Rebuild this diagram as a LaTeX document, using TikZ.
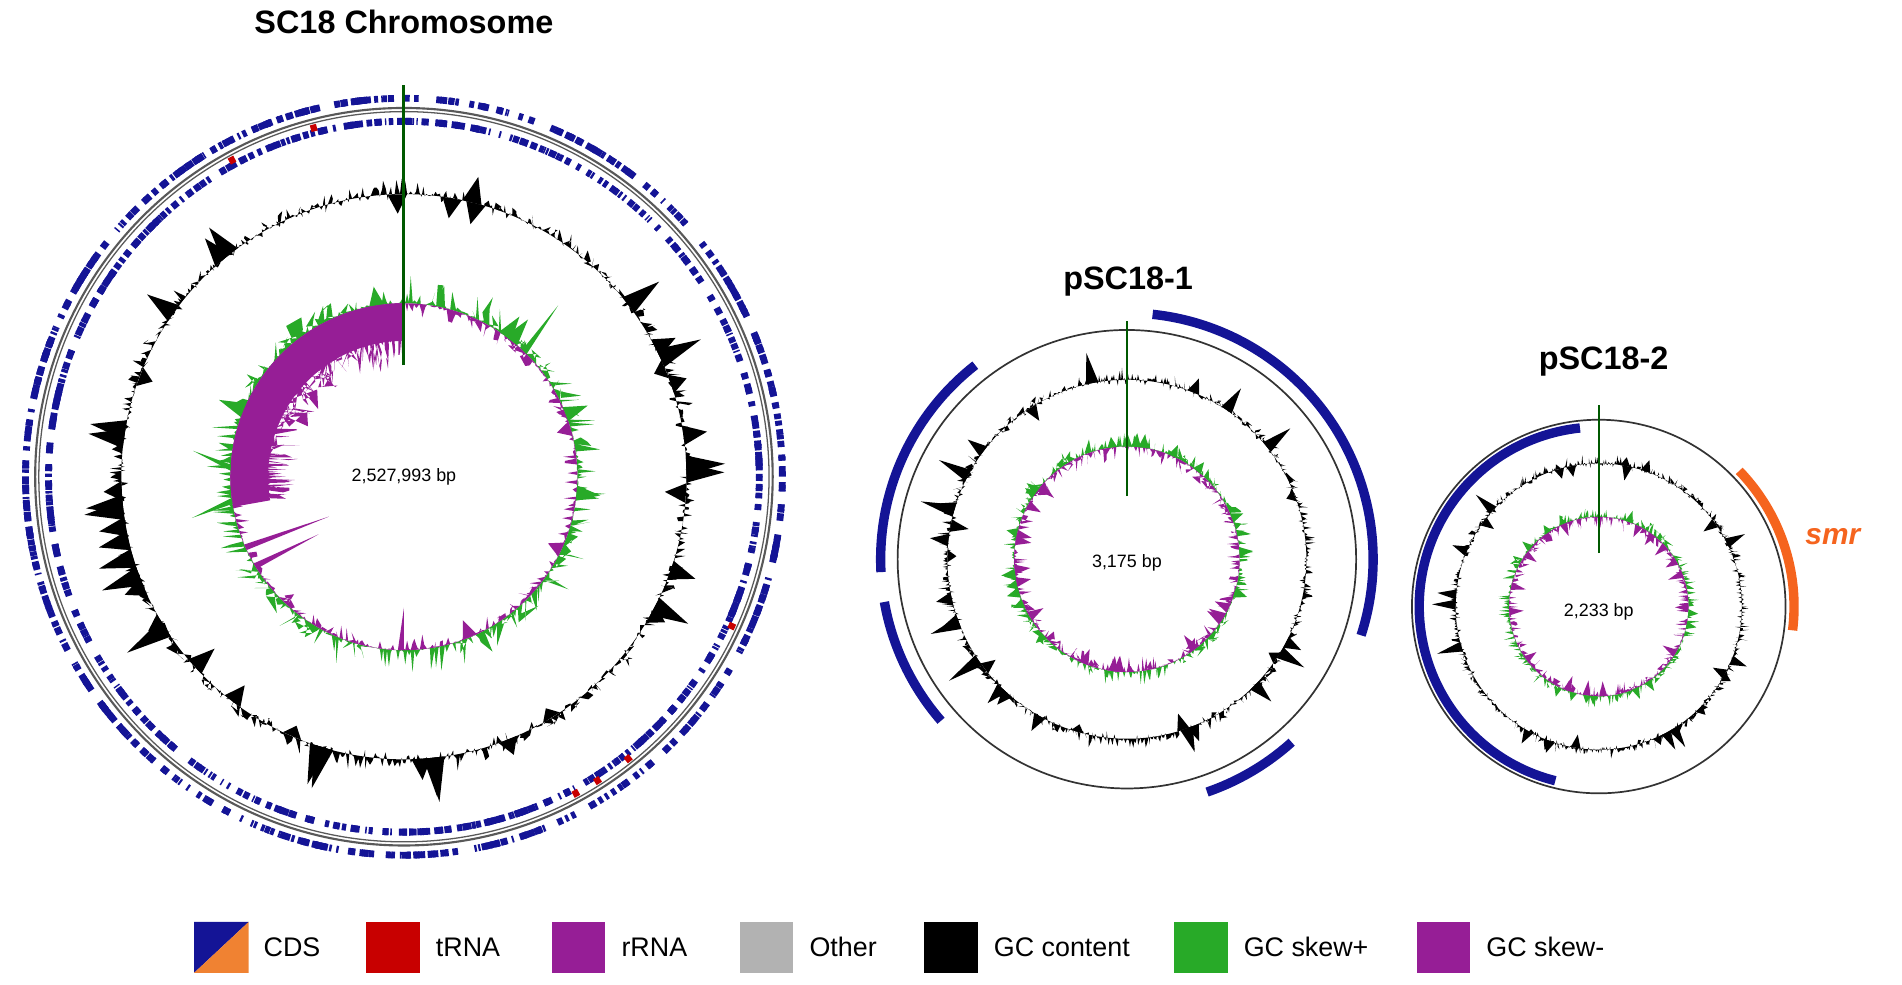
\documentclass[tikz,border=0pt]{standalone}
\usepackage{fontspec}
\setmainfont{Liberation Sans}
\usetikzlibrary{positioning}
\definecolor{cdsblue}{RGB}{20,20,150}
\definecolor{cdsorange}{RGB}{240,130,50}
\definecolor{trnared}{RGB}{200,0,0}
\definecolor{skewgreen}{RGB}{40,170,40}
\definecolor{skewpurple}{RGB}{150,30,150}
\definecolor{smrorange}{RGB}{245,100,30}
\tikzset{
  ttl/.style={font=\bfseries\fontsize{7.6}{9}\selectfont},
  bp/.style={font=\fontsize{4.2}{5}\selectfont},
  legbox/.style={minimum width=4.4mm, minimum height=4.2mm, inner sep=0pt},
  legtxt/.style={font=\fontsize{6.3}{7}\selectfont, anchor=west, xshift=1.2mm, inner sep=0pt}
}
% GC content ring: base radius, hair amplitude, spike height, spike count
\newcommand\gcring[4]{%
  \fill[black, even odd rule] plot[domain=0:360, samples=1000] (\x:{#1+#2*(rnd-0.35)*rnd}) -- cycle (0,0) circle (#1);
  \foreach \k in {1,...,#4}{
    \pgfmathsetmacro\t{rnd*360}
    \pgfmathsetmacro\h{#3*(0.3+0.7*rnd)*(rnd<0.3 ? -0.6 : 1)}
    \fill[black] (\t-2:#1) -- (\t:#1+\h) -- (\t+2:#1) -- cycle;}}
% skew ring: base, green amp, purple amp, spike count
\newcommand\skewring[4]{%
  \fill[skewgreen, even odd rule] plot[domain=0:360, samples=600] (\x:{#1+#2*(rnd^5)}) -- cycle (0,0) circle (#1);
  \fill[skewpurple, even odd rule] plot[domain=0:360, samples=600] (\x:{#1-#3*(rnd^5)}) -- cycle (0,0) circle (#1);
  \foreach \k in {1,...,#4}{
    \pgfmathsetmacro\t{rnd*360}
    \pgfmathsetmacro\h{(0.5+0.5*rnd)}
    \ifdim\h pt<0.75pt
      \fill[skewgreen] (\t-2.5:#1) -- (\t:#1+1.3*#2*\h) -- (\t+2.5:#1) -- cycle;
    \else
      \fill[skewpurple] (\t-2.5:#1) -- (\t:#1-1.3*#3*\h) -- (\t+2.5:#1) -- cycle;
    \fi}}
\begin{document}
\begin{tikzpicture}[x=0.1mm, y=0.1mm]
\pgfmathsetseed{18}
\useasboundingbox (0,0) rectangle (1568,-812);

% chromosome
\node[ttl] (t1) at (333,-18) {SC18 Chromosome};
\begin{scope}[shift={(333,-393)}]
  \foreach \i in {1,...,520}{
    \pgfmathsetmacro\t{rnd*360}
    \pgfmathsetmacro\w{0.2+rnd*1.0}
    \draw[cdsblue, line width=1.6pt] (\t:312) arc[start angle=\t, delta angle=\w, radius=312];
    \pgfmathsetmacro\t{rnd*360}
    \draw[cdsblue, line width=1.6pt] (\t:293) arc[start angle=\t, delta angle=\w, radius=293];}
  \foreach \t in {118,104,-25,-52,-58,-62}{\draw[trnared, line width=1.6pt] (\t:297) arc[start angle=\t, delta angle=1, radius=297];}
  \draw[gray!70!black, line width=0.5pt] (0,0) circle (304);
  \draw[gray!70!black, line width=0.3pt] (0,0) circle (301);
  \gcring{233}{22}{38}{45}
  \skewring{143}{24}{12}{10}
  \fill[skewpurple] (90:143) arc[start angle=90, end angle=190, radius=143] -- (190:112) arc[start angle=190, end angle=90, radius=112] -- cycle;
  \fill[skewpurple, even odd rule] plot[domain=90:190, samples=300] (\x:{143-25-30*rnd^2}) -- (190:143) arc[start angle=190, end angle=90, radius=143] -- cycle;
  \fill[skewgreen] (187:143) -- (191:178) -- (189:143) -- cycle;
  \fill[skewgreen] (178:143) -- (173:175) -- (176:143) -- cycle;
  \fill[skewgreen] (45:143) -- (48:190) -- (47:143) -- cycle;
  \fill[skewpurple] (205:143) -- (208:70) -- (203:143) -- cycle;
  \fill[skewpurple] (212:143) -- (214:85) -- (210:143) -- cycle;
  \fill[skewpurple] (270:143) -- (270:108) -- (268:143) -- cycle;
  \draw[green!35!black, line width=0.7pt] (0,92) -- (0,323);
  \node[bp] (bp1) at (0,0) {2,527,993 bp};
\end{scope}

% plasmid 1
\node[ttl] (t2) at (930,-232) {pSC18-1};
\begin{scope}[shift={(929,-461)}]
  \draw[gray!40!black, line width=0.4pt] (0,0) circle (189);
  \foreach \s/\e in {84/-18, 128/183, 190/221, -71/-48}{
    \draw[cdsblue, line width=2.2pt] (\s:203) arc[start angle=\s, end angle=\e, radius=203];}
  \gcring{148}{16}{30}{30}
  \skewring{93}{12}{12}{34}
  \draw[green!35!black, line width=0.5pt] (0,52) -- (0,196);
  \node[bp] (bp2) at (0,-3) {3,175 bp};
\end{scope}

% plasmid 2
\node[ttl] (t3) at (1322,-298) {pSC18-2};
\begin{scope}[shift={(1318,-500)}]
  \draw[gray!40!black, line width=0.4pt] (0,0) circle (154);
  \draw[cdsblue, line width=2.2pt] (96:148) arc[start angle=96, end angle=256, radius=148];
  \draw[smrorange, line width=2.2pt] (44:161) arc[start angle=44, end angle=-7, radius=161];
  \gcring{118}{14}{22}{25}
  \skewring{74}{10}{10}{26}
  \draw[green!35!black, line width=0.5pt] (0,44) -- (0,166);
  \node[smrorange, font=\bfseries\itshape\fontsize{7}{8}\selectfont] (smr) at (193,58) {smr};
  \node[bp] (bp3) at (0,-4) {2,233 bp};
\end{scope}

% legend
\fill[cdsblue] (160,-760) -- (205,-760) -- (160,-802) -- cycle;
\fill[cdsorange] (205,-760) -- (205,-802) -- (160,-802) -- cycle;
\node[legbox] (lcds) at (182,-781) {};
\node[legtxt] at (lcds.east) {CDS};
\node[legbox, fill=trnared] (ltrna) at (324,-781) {};
\node[legtxt] at (ltrna.east) {tRNA};
\node[legbox, fill=skewpurple] (lrrna) at (477,-781) {};
\node[legtxt] at (lrrna.east) {rRNA};
\node[legbox, fill=gray!60] (loth) at (632,-781) {};
\node[legtxt] at (loth.east) {Other};
\node[legbox, fill=black] (lgc) at (784,-781) {};
\node[legtxt] at (lgc.east) {GC content};
\node[legbox, fill=skewgreen] (lsp) at (990,-781) {};
\node[legtxt] at (lsp.east) {GC skew+};
\node[legbox, fill=skewpurple] (lsm) at (1190,-781) {};
\node[legtxt] at (lsm.east) {GC skew-};
\end{tikzpicture}
\end{document}
